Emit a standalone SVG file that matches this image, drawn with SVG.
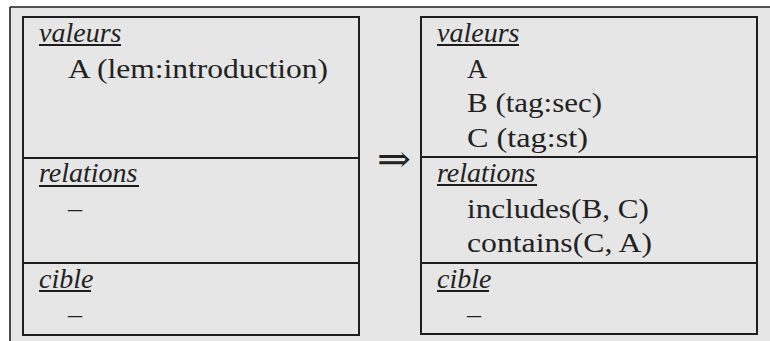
<svg xmlns="http://www.w3.org/2000/svg" width="770" height="341" viewBox="0 0 770 341">
<style>
.box{fill:none;stroke:#1e1e1e;stroke-width:2}
.frame{stroke:#1e1e1e;stroke-width:1.6;fill:none}
.h{font-family:'Liberation Serif','Times New Roman',serif;font-style:italic;font-size:28px;fill:#222}
.t{font-family:'Liberation Serif','Times New Roman',serif;font-size:28px;fill:#222}
.ar{font-family:'DejaVu Serif','DejaVu Sans',serif;font-size:38px;fill:#222}
.ul{stroke:#1e1e1e;stroke-width:2}
</style>
<rect x="0" y="0" width="770" height="341" fill="#ffffff"/>
<rect x="10" y="7" width="760" height="334" fill="#e6e6e6"/>
<g id="frame">
<line class="frame" x1="10" y1="7" x2="770" y2="7"/>
<line class="frame" x1="10" y1="7" x2="10" y2="341"/>
</g>
<g id="left-box">
<rect class="box" x="23" y="17" width="336" height="318"/>
<line class="box" x1="23" y1="158" x2="359" y2="158"/>
<line class="box" x1="23" y1="263" x2="359" y2="263"/>
<text class="h" x="39" y="42">valeurs</text>
<line class="ul" x1="39" y1="45" x2="121" y2="45"/>
<text class="t" x="68" y="78" textLength="260" lengthAdjust="spacingAndGlyphs">A (lem:introduction)</text>
<text class="h" x="39" y="182">relations</text>
<line class="ul" x1="39" y1="186" x2="139" y2="186"/>
<text class="t" x="68" y="217">–</text>
<text class="h" x="39" y="288">cible</text>
<line class="ul" x1="39" y1="291" x2="91" y2="291"/>
<text class="t" x="68" y="323">–</text>
</g>
<g id="connectors">
<text class="ar" x="377" y="172" textLength="34" lengthAdjust="spacingAndGlyphs">⇒</text>
</g>
<g id="right-box">
<rect class="box" x="421" y="17" width="336" height="317"/>
<line class="box" x1="421" y1="157" x2="757" y2="157"/>
<line class="box" x1="421" y1="263" x2="757" y2="263"/>
<text class="h" x="437" y="42">valeurs</text>
<line class="ul" x1="437" y1="45" x2="519" y2="45"/>
<text class="t" x="467" y="78">A</text>
<text class="t" x="467" y="112" textLength="135" lengthAdjust="spacingAndGlyphs">B (tag:sec)</text>
<text class="t" x="467" y="147" textLength="121" lengthAdjust="spacingAndGlyphs">C (tag:st)</text>
<text class="h" x="437" y="182">relations</text>
<line class="ul" x1="437" y1="185" x2="537" y2="185"/>
<text class="t" x="467" y="218" textLength="182" lengthAdjust="spacingAndGlyphs">includes(B, C)</text>
<text class="t" x="467" y="252" textLength="185" lengthAdjust="spacingAndGlyphs">contains(C, A)</text>
<text class="h" x="437" y="288">cible</text>
<line class="ul" x1="437" y1="291" x2="489" y2="291"/>
<text class="t" x="467" y="323">–</text>
</g>
</svg>
